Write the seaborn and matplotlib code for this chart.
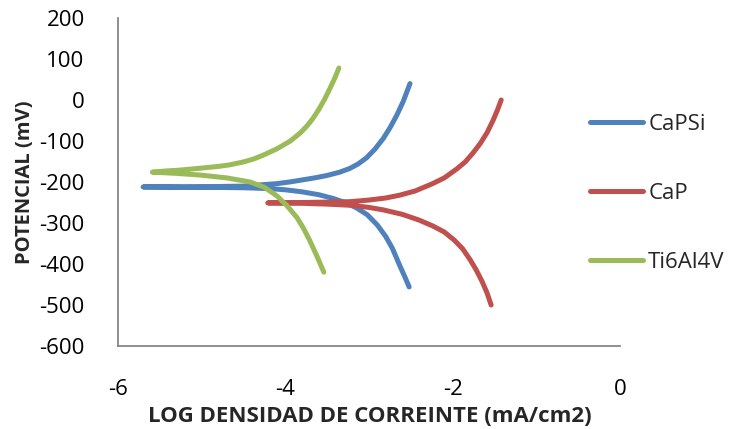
import matplotlib
matplotlib.use("Agg")
import matplotlib.pyplot as plt
import seaborn as sns
import pandas as pd

# Tafel polarization curves: each series runs from the cathodic end,
# through the corrosion point, to the anodic end.
capsi_logi = [-2.52, -2.57, -2.63, -2.72, -2.80, -2.90, -3.02, -3.15, -3.30, -3.43, -3.60, -3.80,
              -4.00, -4.20, -4.50, -5.00, -5.70,
              -5.20, -4.80, -4.50, -4.30, -4.10, -3.95, -3.83, -3.65, -3.50, -3.35, -3.23,
              -3.13, -3.03, -2.93, -2.83, -2.75, -2.67, -2.59, -2.51]
capsi_pot = [-456, -432, -405, -362, -333, -305, -280, -263, -249, -240, -231, -224,
             -219, -216, -214, -213, -212,
             -212, -211, -210, -207, -204, -200, -196, -190, -184, -176, -167,
             -156, -141, -120, -94, -68, -38, -3, 40]

cap_logi = [-1.54, -1.59, -1.65, -1.72, -1.79, -1.88, -1.98, -2.10, -2.24, -2.40, -2.60, -2.83,
            -3.00, -3.20, -3.50, -3.80, -4.21,
            -3.80, -3.50, -3.23, -3.00, -2.80, -2.63, -2.45, -2.24, -2.10, -1.95, -1.85,
            -1.76, -1.67, -1.59, -1.52, -1.46, -1.42]
cap_pot = [-500, -470, -442, -414, -390, -363, -342, -322, -307, -293, -279, -268,
           -262, -257, -254, -252, -251,
           -250, -249, -248, -244, -239, -232, -222, -204, -190, -168, -151,
           -130, -106, -80, -51, -22, 0]

ti_logi = [-3.54, -3.62, -3.71, -3.78, -3.86, -3.98, -4.10, -4.25, -4.42, -4.70, -5.02, -5.30, -5.59,
           -5.42, -5.26, -5.00, -4.80, -4.66, -4.50, -4.38, -4.27, -4.10, -3.94, -3.82, -3.74,
           -3.67, -3.60, -3.53, -3.47, -3.41, -3.36]
ti_pot = [-420, -382, -342, -314, -287, -258, -234, -213, -200, -190, -183, -179, -176,
          -173, -171, -166, -162, -158, -151, -144, -135, -119, -100, -80, -63,
          -45, -23, 2, 27, 53, 78]

series_names = ["CaPSi", "CaP", "Ti6Al4V"]
palette = {"CaPSi": "#4F81BD", "CaP": "#C0504D", "Ti6Al4V": "#9BBB59"}

x_ticks = [-6, -4, -2, 0]
y_ticks = [-600, -500, -400, -300, -200, -100, 0, 100, 200]

frames = []
for name, xs, ys in zip(series_names, [capsi_logi, cap_logi, ti_logi], [capsi_pot, cap_pot, ti_pot]):
    frames.append(pd.DataFrame({"logi": xs, "pot": ys, "serie": name}))
df = pd.concat(frames, ignore_index=True)

sns.set_style("white")
plt.rcParams["font.family"] = ["Open Sans", "DejaVu Sans"]

W, H = 734, 429
fig = plt.figure(figsize=(W / 100, H / 100), dpi=100)
ax = fig.add_axes([118 / W, 1 - 346 / H, (620 - 118) / W, (346 - 18) / H])

sns.lineplot(data=df, x="logi", y="pot", hue="serie", units="serie", estimator=None,
             sort=False, palette=palette, hue_order=series_names, linewidth=3.6,
             ax=ax, legend=False, solid_capstyle="round", solid_joinstyle="round")

ax.set_xlim(-6, 0)
ax.set_ylim(-600, 200)
ax.set_xticks(x_ticks)
ax.set_yticks(y_ticks)
ax.set_xticklabels([str(v) for v in x_ticks], fontsize=16)
ax.set_yticklabels([str(v) for v in y_ticks], fontsize=16)
ax.tick_params(axis="both", length=0, colors="black")
ax.tick_params(axis="x", pad=24)
ax.tick_params(axis="y", pad=24)
ax.set_xlabel("")
ax.set_ylabel("")
for side in ["top", "right"]:
    ax.spines[side].set_visible(False)
for side in ["left", "bottom"]:
    ax.spines[side].set_color("#868686")
    ax.spines[side].set_linewidth(1.3)

fig.text(370 / W, 1 - 416 / H, "LOG DENSIDAD DE CORREINTE (mA/cm2)", ha="center", va="center",
         fontsize=16, fontweight="bold")
fig.text(25 / W, 1 - 182 / H, "POTENCIAL (mV)", ha="center", va="center", rotation=90,
         fontsize=14.5, fontweight="bold")

handles = [plt.Line2D([], [], color=palette[n], linewidth=3.6, solid_capstyle="round")
           for n in series_names]
fig.legend(handles, series_names, loc="upper left", bbox_to_anchor=(590 / W, 1 - 114 / H),
           frameon=False, fontsize=16, handlelength=2.4, handletextpad=0.22,
           labelspacing=2.15, borderpad=0, borderaxespad=0)

fig.savefig("out.png", dpi=100)
